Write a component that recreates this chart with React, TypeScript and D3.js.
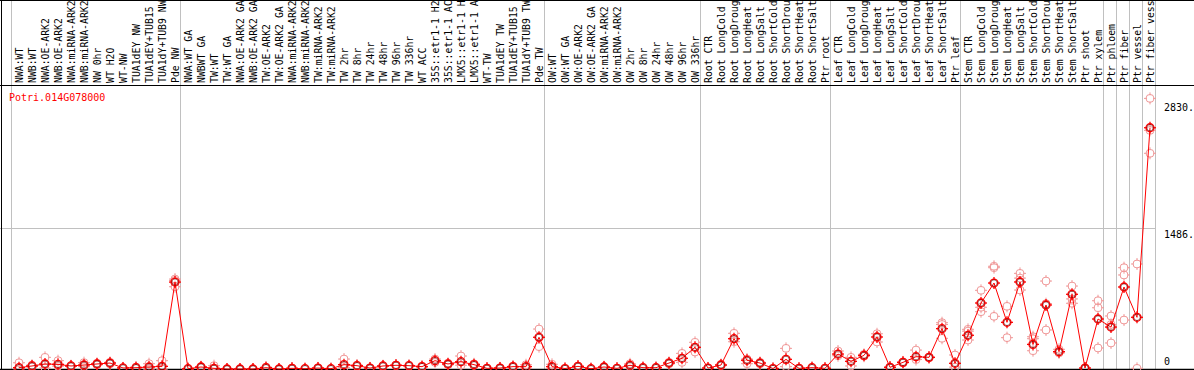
import React from "react";
import * as d3 from "d3";

const geneTitle = "Potri.014G078000";

const sampleLabels: string[] = [
  "NWA:WT", "NWB:WT", "NWA:OE-ARK2", "NWB:OE-ARK2", "NWA:miRNA-ARK2", "NWB:miRNA-ARK2",
  "NW 0hr", "WT H2O", "WT-NW", "TUA1dEY NW", "TUA1dEY+TUB15", "TUA1dY+TUB9 NW", "Pde NW",
  "NWA:WT GA", "NWBWT GA", "TW:WT", "TW:WT GA", "NWA:OE-ARK2 GA", "NWB:OE-ARK2 GA",
  "TW:OE-ARK2", "TW:OE-ARK2 GA", "NWA:miRNA-ARK2", "NWB:miRNA-ARK2", "TW:miRNA-ARK2",
  "TW:miRNA-ARK2", "TW 2hr", "TW 8hr", "TW 24hr", "TW 48hr", "TW 96hr", "TW 336hr", "WT ACC",
  "35S::etr1-1 H2", "35S::etr1-1 AC", "LMX5::etr1-1 H", "LMX5::etr1-1 A", "WT-TW",
  "TUA1dEY TW", "TUA1dEY+TUB15", "TUA1dY+TUB9 TW", "Pde TW",
  "OW:WT", "OW:WT GA", "OW:OE-ARK2", "OW:OE-ARK2 GA", "OW:miRNA-ARK2", "OW:miRNA-ARK2",
  "OW 2hr", "OW 8hr", "OW 24hr", "OW 48hr", "OW 96hr", "OW 336hr",
  "Root CTR", "Root LongCold", "Root LongDroug", "Root LongHeat", "Root LongSalt",
  "Root ShortCold", "Root ShortDrou", "Root ShortHeat", "Root ShortSalt", "Ptr root",
  "Leaf CTR", "Leaf LongCold", "Leaf LongDroug", "Leaf LongHeat", "Leaf LongSalt",
  "Leaf ShortCold", "Leaf ShortDrou", "Leaf ShortHeat", "Leaf ShortSalt", "Ptr leaf",
  "Stem CTR", "Stem LongCold", "Stem LongDroug", "Stem LongHeat", "Stem LongSalt",
  "Stem ShortCold", "Stem ShortDrou", "Stem ShortHeat", "Stem ShortSalt", "Ptr shoot",
  "Ptr xylem", "Ptr phloem", "Ptr fiber", "Ptr vessel", "Ptr fiber vess",
];

// group boundaries (index of first sample in each group, plus end)
const groupBreaks: number[] = [0, 13, 41, 53, 63, 73, 84, 85, 86, 87, 88];

const meanValues: number[] = [
  14, 32, 53, 49, 32, 42, 53, 63, 11, 14, 21, 28, 918,
  3, 21, 7, 0, 0, 0, 14, 0, 7, 3, 10, 3, 46, 35, 10, 32, 39, 35, 25, 88, 53, 77, 46, 7, 10, 25, 25, 335,
  25, 5, 28, 3, 21, 7, 39, 14, 14, 63, 113, 229,
  10, 42, 320, 92, 63, 5, 102, 7, 14, 7,
  158, 81, 144, 338, 18, 70, 130, 123, 426, 60,
  356, 697, 908, 493, 919, 260, 676, 183, 789, 10, 528,
  443, 866, 546, 2548,
];

const replicateValues: number[][] = [
  [66, 2], [40, 25], [123, 10], [88, 30], [35, 28], [67, 25], [60, 45], [70, 55], [12, 10], [20, 8], [56, 0], [88, 0], [950, 869, 935],
  [5, 0], [25, 18], [35, 0], [0, 0], [0, 0], [0, 0], [20, 8], [0, 0], [10, 4], [3], [12, 8], [3], [105, 15], [40, 30], [12, 8], [35, 28], [42, 36], [38, 32], [28, 22], [105, 70], [60, 45], [137, 40], [55, 38], [8, 5], [12, 8], [28, 22], [45, 5], [422, 236],
  [50, 5], [5], [30, 25], [3], [25, 18], [8], [55, 25], [16, 12], [16, 12], [70, 55], [165, 70], [282, 179],
  [12], [48, 36], [377, 288], [105, 56], [70, 55], [5], [218, 25], [8], [16], [8],
  [190, 140], [123, 32], [155, 135], [372, 285], [20, 15], [75, 65], [200, 100], [125, 120], [489, 470, 324], [148, 20],
  [419, 400, 306], [831, 652, 605], [1085, 1070, 556], [662, 331], [1010, 960, 834], [341, 320, 193], [929, 690, 412], [208, 170], [876, 740, 694], [10, 5], [721, 647, 222],
  [560, 470, 275], [1070, 993, 517], [1109, 7], [2858, 2520, 2278],
];

const yTickValues: number[] = [0, 1486, 2830];
const yTickLabels: string[] = ["0", "1486.", "2830."];
const yGridValues: number[] = [1486];
const yMax = 2972;

const W = 1194;
const H = 370;
const FONT = "'DejaVu Sans Mono', monospace";

function Marker({ cx, cy, color, width, r }: { cx: number; cy: number; color: string; width: number; r: number }) {
  const t = 2;
  return (
    <g stroke={color} strokeWidth={width} fill="none">
      <circle cx={cx} cy={cy} r={r} />
      <line x1={cx} y1={cy - r - t} x2={cx} y2={cy - r + 1} />
      <line x1={cx} y1={cy + r - 1} x2={cx} y2={cy + r + t} />
      <line x1={cx - r - t} y1={cy} x2={cx - r + 1} y2={cy} />
      <line x1={cx + r - 1} y1={cy} x2={cx + r + t} y2={cy} />
    </g>
  );
}

export default function App() {
  const n = sampleLabels.length;
  const x = d3.scaleBand<number>().domain(d3.range(n)).range([11, 1155]).paddingInner(0).paddingOuter(0);
  const cx = (i: number) => (x(i) as number) + 8;
  const edge = (b: number) => (b >= n ? 11 + x.step() * n : (x(b) as number));
  const y = d3.scaleLinear().domain([0, yMax]).range([369, 87.6]);

  const line = d3
    .line<number>()
    .x((_, i) => cx(i))
    .y((d) => y(d));

  return (
    <svg
      width={W}
      height={H}
      style={{ position: "absolute", left: 0, top: 0, background: "#fff" }}
      fontFamily={FONT}
    >
      <rect x={0} y={0} width={W} height={H} fill="#fff" />
      {/* group separators */}
      {groupBreaks.map((b) => (
        <line key={"g" + b} x1={edge(b) + 0.5} x2={edge(b) + 0.5} y1={0} y2={H} stroke="#c0c0c0" strokeWidth={1} />
      ))}
      {/* horizontal grid */}
      {yGridValues.map((v) => (
        <line key={"h" + v} x1={0} x2={1155} y1={Math.round(y(v)) + 0.5} y2={Math.round(y(v)) + 0.5} stroke="#c0c0c0" strokeWidth={1} />
      ))}
      {/* frame lines */}
      <line x1={0} x2={W} y1={0.5} y2={0.5} stroke="#000" />
      <line x1={1.5} x2={1.5} y1={0} y2={H} stroke="#000" />
      <line x1={0} x2={W} y1={85.5} y2={85.5} stroke="#000" />
      <line x1={0} x2={W} y1={369.5} y2={369.5} stroke="#000" strokeWidth={1.5} />

      {/* sample labels */}
      {sampleLabels.map((s, i) => (
        <text
          key={"l" + i}
          transform={`translate(${cx(i) + 3.7},83) rotate(-90)`}
          fontSize={9.8}
          fill="#000"
        >
          {s}
        </text>
      ))}

      {/* title */}
      <text x={9} y={100.5} fontSize={10} fill="#ff0000">
        {geneTitle}
      </text>

      {/* y tick labels */}
      {yTickValues.map((v, k) => (
        <text key={"t" + v} x={1164} y={Math.min(y(v) + 9.5, 365)} fontSize={10} fill="#000">
          {yTickLabels[k]}
        </text>
      ))}

      {/* replicates */}
      {replicateValues.map((reps, i) =>
        reps.map((v, j) => (
          <Marker key={`r${i}-${j}`} cx={cx(i)} cy={y(v)} color="#f09a9a" width={1} r={4} />
        ))
      )}

      {/* mean line */}
      <path d={line(meanValues) || ""} fill="none" stroke="#ff0000" strokeWidth={1} />

      {/* mean markers */}
      {meanValues.map((v, i) => (
        <g key={"m" + i}>
          <Marker cx={cx(i)} cy={y(v)} color="#ff0000" width={1.3} r={4} />
          <circle cx={cx(i)} cy={y(v)} r={3.2} fill="none" stroke="#600000" strokeWidth={0.6} />
        </g>
      ))}
    </svg>
  );
}
